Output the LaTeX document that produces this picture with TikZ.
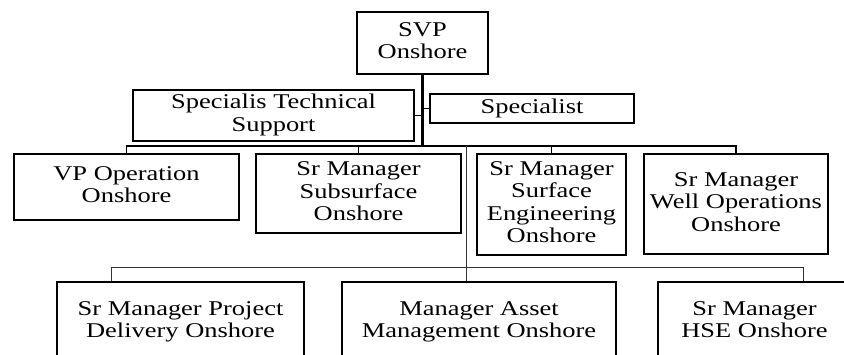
\documentclass[tikz,border=0pt]{standalone}
\usepackage{fontspec}
\usepackage{graphicx}
\setmainfont{Liberation Serif}
\usetikzlibrary{calc}
\newcommand\stx[1]{\scalebox{1.26}[1]{\begin{tabular}{@{}c@{}}#1\end{tabular}}}
\begin{document}
\begin{tikzpicture}[x=1pt,y=-1pt,
  box/.style={draw,line width=1.8pt,align=center,inner sep=0pt,
    font=\fontsize{21}{22.5}\selectfont},
  trunk/.style={line width=2.4pt},
  busline/.style={line width=1.4pt},
  thinline/.style={line width=0.9pt,draw=black!80}]
\useasboundingbox (0,0) rectangle (844,354);
\clip (0,0) rectangle (844,354);
% nodes
\node[box,minimum width=131pt,minimum height=62pt] (svp) at (422.5,43) {\stx{SVP\\Onshore}};
\node[box,minimum width=281pt,minimum height=51pt] (sts) at (273.5,115.5) {\stx{Specialis Technical\\Support}};
\node[box,minimum width=204pt,minimum height=29pt] (spec) at (532,108.5) {\stx{Specialist}};
\node[box,minimum width=225pt,minimum height=66pt] (vp) at (126.5,187) {\stx{VP Operation\\Onshore}};
\node[box,minimum width=205pt,minimum height=79pt] (ss) at (358.5,193.5) {\stx{Sr Manager\\Subsurface\\Onshore}};
\node[box,minimum width=149pt,minimum height=101pt] (se) at (551.5,204.5) {\stx{Sr Manager\\Surface\\Engineering\\Onshore}};
\node[box,minimum width=184pt,minimum height=100pt] (wo) at (736,204) {\stx{Sr Manager\\Well Operations\\Onshore}};
\node[box,minimum width=247pt,minimum height=80pt] (pd) at (180.5,322) {\stx{Sr Manager Project\\Delivery Onshore}};
\node[box,minimum width=274pt,minimum height=80pt] (am) at (479,322) {\stx{Manager Asset\\Management Onshore}};
\node[box,minimum width=193pt,minimum height=80pt] (hse) at (754.5,322) {\stx{Sr Manager\\HSE Onshore}};
% coordinates
\coordinate (b1) at (422,146);
\coordinate (b2) at (467,267);
\coordinate (pdc) at ($(pd.north west)+(55,0)$);
\coordinate (amc) at ($(am.north west)+(125,0)$);
\coordinate (hsec) at ($(hse.north west)+(146,0)$);
% connectors
\draw[trunk] (svp.south) -- (svp.south |- b1);
\draw[busline] (sts.east) -- (sts.east -| svp.south);
\draw[busline] (spec.west) -- (spec.west -| svp.south);
\draw[busline] (vp.north) -- (vp.north |- b1) -- (wo.north |- b1) -- (wo.north);
\draw[busline] (ss.north) -- (ss.north |- b1);
\draw[busline] (se.north) -- (se.north |- b1);
\draw[thinline] (amc |- b1) -- (amc);
\draw[thinline] (pdc) -- (pdc |- b2) -- (hsec |- b2) -- (hsec);
\end{tikzpicture}
\end{document}
